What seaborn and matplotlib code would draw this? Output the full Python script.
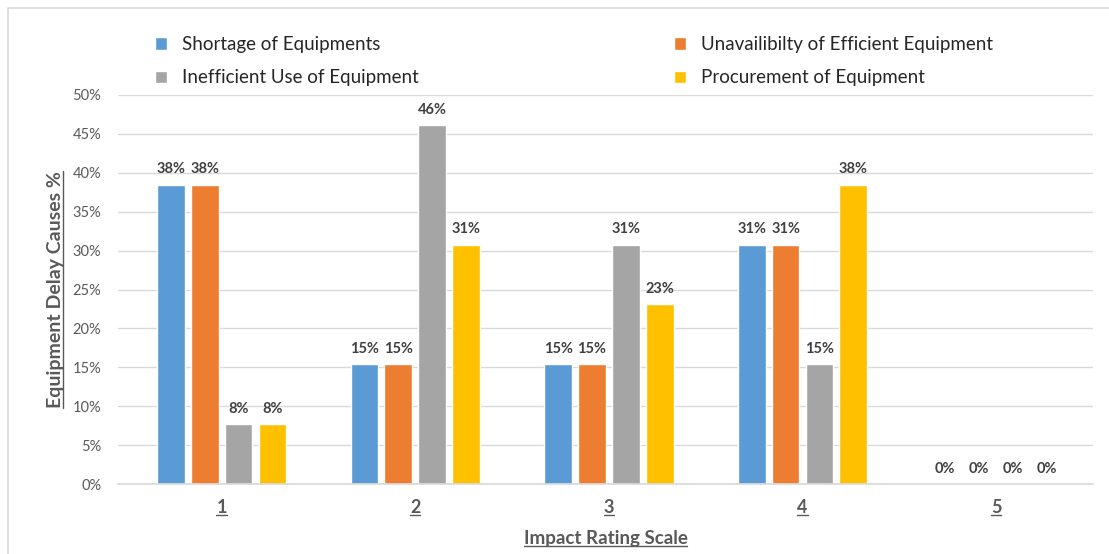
import numpy as np
import pandas as pd
import matplotlib
matplotlib.use("Agg")
import matplotlib.pyplot as plt
from matplotlib.patches import Rectangle
from matplotlib.lines import Line2D
import seaborn as sns

ratings = ["1", "2", "3", "4", "5"]
series = [
    "Shortage of Equipments",
    "Unavailibilty of Efficient Equipment",
    "Inefficient Use of Equipment",
    "Procurement of Equipment",
]
shortage = [38.46, 15.38, 15.38, 30.77, 0]
unavailability = [38.46, 15.38, 15.38, 30.77, 0]
inefficient = [7.69, 46.15, 30.77, 15.38, 0]
procurement = [7.69, 30.77, 23.08, 38.46, 0]
colors = ["#5b9bd5", "#ed7d31", "#a5a5a5", "#ffc000"]

rows = []
for name, vals in zip(series, [shortage, unavailability, inefficient, procurement]):
    for r, v in zip(ratings, vals):
        rows.append({"rating": r, "cause": name, "pct": v})
df = pd.DataFrame(rows)

sns.set_theme(style="white")
plt.rcParams["font.family"] = ["Lato", "DejaVu Sans"]

W, H = 1109, 554
fig = plt.figure(figsize=(W / 100, H / 100), dpi=100)
ax = fig.add_axes([118 / W, 1 - 484 / H, (1093 - 118) / W, (484 - 95) / H])

sns.barplot(data=df, x="rating", y="pct", hue="cause", hue_order=series,
            palette=colors, saturation=1, width=0.7, gap=0.18, ax=ax, legend=True)

for cont in ax.containers:
    ax.bar_label(cont, labels=[f"{v:.0f}%" for v in cont.datavalues],
                 padding=6, fontsize=10.5, fontweight="bold", color="#404040")

ax.set_ylim(0, 50)
ax.set_xlim(-0.535, 4.5)
ax.set_yticks(np.arange(0, 51, 5))
ax.set_yticklabels([f"{t}%" for t in range(0, 51, 5)])
ax.yaxis.grid(True, color="#d9d9d9", linewidth=1)
ax.set_axisbelow(True)
for s in ["top", "right", "left"]:
    ax.spines[s].set_visible(False)
ax.spines["bottom"].set_color("#d9d9d9")
ax.tick_params(axis="y", length=0, labelsize=10.5, labelcolor="#595959", pad=12)
ax.tick_params(axis="x", length=0, labelsize=13, labelcolor="#595959", pad=11)
for lab in ax.get_xticklabels():
    lab.set_fontweight("bold")

ax.set_xlabel("Impact Rating Scale", fontsize=13.5, fontweight="bold",
              color="#595959", labelpad=10)
ax.set_ylabel("Equipment Delay Causes %", fontsize=14, fontweight="bold",
              color="#595959", labelpad=6)

handles, labels = ax.get_legend_handles_labels()
order = [0, 2, 1, 3]
ax.legend([handles[i] for i in order], [labels[i] for i in order], ncol=2,
          loc="upper left", bbox_to_anchor=(138 / W, 1 - 19 / H),
          bbox_transform=fig.transFigure, frameon=False, fontsize=13.5,
          handlelength=0.65, handleheight=0.65, handletextpad=0.8,
          columnspacing=13.6, labelspacing=0.88, labelcolor="#262626")

# chart frame
fig.patches.append(Rectangle((8 / W, -0.1), 1.2, 1.1 - 8 / H, transform=fig.transFigure,
                             fill=False, edgecolor="#d9d9d9", linewidth=1.2))

# underline axis label and category labels
fig.canvas.draw()
renderer = fig.canvas.get_renderer()
inv = fig.transFigure.inverted()
for t in list(ax.get_xticklabels()) + [ax.xaxis.label]:
    bb = t.get_window_extent(renderer)
    (x0, y0), (x1, y1) = inv.transform([(bb.x0, bb.y0 + 1), (bb.x1, bb.y0 + 1)])
    fig.add_artist(Line2D([x0, x1], [y0, y1], transform=fig.transFigure,
                          color="#595959", linewidth=1))
bb = ax.yaxis.label.get_window_extent(renderer)
(x0, y0), (x1, y1) = inv.transform([(bb.x1 - 1, bb.y0), (bb.x1 - 1, bb.y1)])
fig.add_artist(Line2D([x0, x1], [y0, y1], transform=fig.transFigure,
                      color="#595959", linewidth=1))

fig.savefig("out.png", dpi=100)
